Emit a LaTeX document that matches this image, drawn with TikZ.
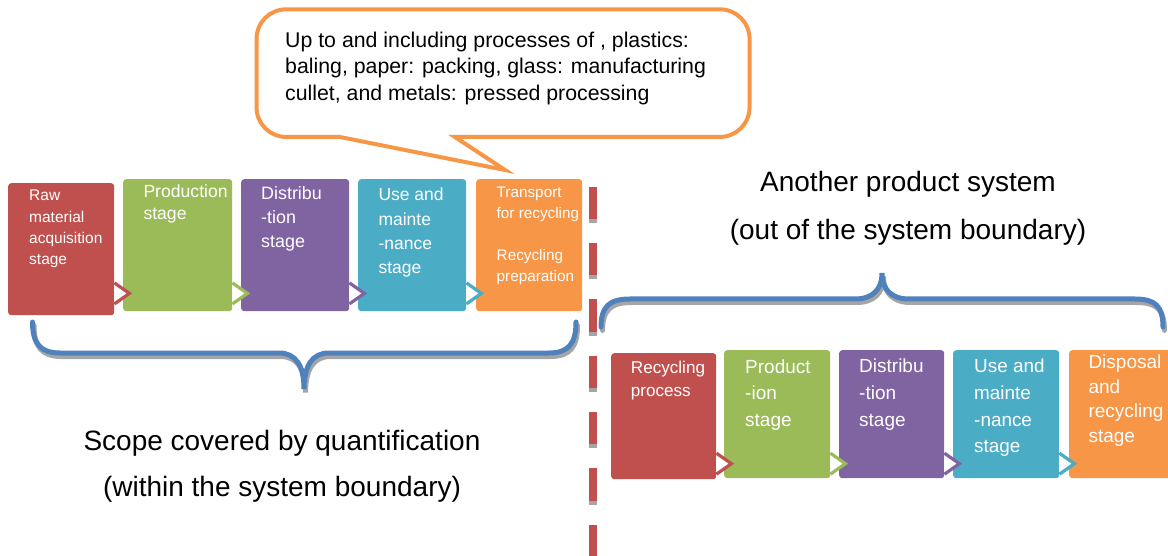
\documentclass[tikz,border=0pt]{standalone}
\usepackage{fontspec}
\setmainfont{Liberation Sans}
\usetikzlibrary{calc}
\definecolor{cred}{HTML}{C0504D}
\definecolor{cgreen}{HTML}{9BBB59}
\definecolor{cpurple}{HTML}{8064A2}
\definecolor{caqua}{HTML}{4BACC6}
\definecolor{corange}{HTML}{F79646}
\definecolor{cblue}{HTML}{4F81BD}
\definecolor{cshadow}{HTML}{A5A5A5}
\newcommand\myfs[2]{\fontsize{#1}{#2}\selectfont}
\newcommand\tabarrow[3]{\filldraw[tab, draw=#2] ($(#1.south east)+(0,-#3-10.5)$) -- ($(#1.south east)+(15,-#3)$) -- ($(#1.south east)+(0,-#3+10.5)$);}
\begin{document}
\begin{tikzpicture}[x=1pt,y=-1pt,
  stagebox/.style={rectangle, rounded corners=3pt, inner sep=0pt, anchor=north west},
  stagetxt/.style={anchor=north west, inner sep=0pt, align=left, text=white},
  tab/.style={fill=white, line width=3.2pt, line join=miter},
  bracesh/.style={draw=cshadow, line width=5pt, line cap=round},
  bracel/.style={draw=cblue, line width=5pt, line cap=round},
  lab/.style={anchor=base, inner sep=0pt, font=\myfs{28}{34}},
  dashline/.style={line width=7.3pt, dash pattern=on 32.5pt off 23.8pt}
]
\useasboundingbox (0,0) rectangle (1168,556);
\clip (0,0) rectangle (1168,556);

% callout
\draw[line width=4pt, draw=corange, fill=white, line join=miter]
  (286.5,9.3) -- (719.6,9.3) .. controls (736,9.3) and (749.6,22) .. (749.6,39.3)
  -- (749.6,107) .. controls (749.6,124) and (736,137) .. (719.6,137)
  -- (455,137) -- (505,170) -- (340,137) -- (286.5,137)
  .. controls (270,137) and (256.5,124) .. (256.5,107)
  -- (256.5,39.3) .. controls (256.5,22) and (270,9.3) .. (286.5,9.3) -- cycle;
\node[anchor=north west, inner sep=0pt, align=left, font=\myfs{21.3}{26.3}] (note) at (285,32)
  {Up to and including processes of , plastics:\\baling, paper: packing, glass: manufacturing\\cullet, and metals: pressed processing};

% top row
\node[stagebox, fill=cred, minimum width=106pt, minimum height=132pt] (t1) at (8,183) {};
\node[stagebox, fill=cgreen, minimum width=109pt, minimum height=132pt] (t2) at (123,179) {};
\node[stagebox, fill=cpurple, minimum width=108pt, minimum height=132pt] (t3) at (241,179) {};
\node[stagebox, fill=caqua, minimum width=108pt, minimum height=132pt] (t4) at (358,179) {};
\node[stagebox, fill=corange, minimum width=106pt, minimum height=132pt] (t5) at (476,179) {};
\node[stagetxt, font=\myfs{15.5}{21.3}] (t1x) at ($(t1.north west)+(21,7)$) {Raw\\material\\acquisition\\stage};
\node[stagetxt, font=\myfs{17.6}{21.5}] (t2x) at ($(t2.north west)+(20.3,6)$) {Production\\stage};
\node[stagetxt, font=\myfs{17.9}{24}] (t3x) at ($(t3.north west)+(20,7.7)$) {Distribu\\-tion\\stage};
\node[stagetxt, font=\myfs{17.5}{24.3}] (t4x) at ($(t4.north west)+(20.3,9)$) {Use and\\mainte\\-nance\\stage};
\node[stagetxt, font=\myfs{15.3}{21.1}] (t5x) at ($(t5.north west)+(20.5,7.7)$) {Transport\\for recycling\\[21.1pt]Recycling\\preparation};
\tabarrow{t1}{cred}{22}
\tabarrow{t2}{cgreen}{18}
\tabarrow{t3}{cpurple}{18}
\tabarrow{t4}{caqua}{18}

% bottom row
\node[stagebox, fill=cred, minimum width=105pt, minimum height=126pt] (b1) at (611,353) {};
\node[stagebox, fill=cgreen, minimum width=106pt, minimum height=128pt] (b2) at (724,350) {};
\node[stagebox, fill=cpurple, minimum width=105pt, minimum height=128pt] (b3) at (839,350) {};
\node[stagebox, fill=caqua, minimum width=106pt, minimum height=128pt] (b4) at (953,350) {};
\node[stagebox, fill=corange, minimum width=112pt, minimum height=128pt] (b5) at (1069,350) {};
\node[stagetxt, font=\myfs{17.1}{23.3}] (b1x) at ($(b1.north west)+(19.7,7.7)$) {Recycling\\process};
\node[stagetxt, font=\myfs{19}{26.7}] (b2x) at ($(b2.north west)+(21,9.3)$) {Product\\-ion\\stage};
\node[stagetxt, font=\myfs{19}{26.7}] (b3x) at ($(b3.north west)+(20,9)$) {Distribu\\-tion\\stage};
\node[stagetxt, font=\myfs{18.9}{26.7}] (b4x) at ($(b4.north west)+(21,9)$) {Use and\\mainte\\-nance\\stage};
\node[stagetxt, font=\myfs{19}{24.5}] (b5x) at ($(b5.north west)+(19.3,5)$) {Disposal\\and\\recycling\\stage};
\tabarrow{b1}{cred}{15.7}
\tabarrow{b2}{cgreen}{14.7}
\tabarrow{b3}{cpurple}{14.7}
\tabarrow{b4}{caqua}{14.7}

% boundary line
\draw[dashline, draw=cshadow] (593,190.7) -- (593,580);
\draw[dashline, draw=cred] (593,186.7) -- (593,580);

% braces
\draw[bracesh, shift={(1.5,3.5)}] (32.5,322) .. controls (32.5,343) and (40,353) .. (60,353) -- (279,353)
  .. controls (296,353) and (304,366) .. (304,389) .. controls (304,366) and (312,353) .. (329,353)
  -- (549,353) .. controls (569,353) and (576,343) .. (576,322);
\draw[bracel] (32.5,322) .. controls (32.5,343) and (40,353) .. (60,353) -- (279,353)
  .. controls (296,353) and (304,366) .. (304,389) .. controls (304,366) and (312,353) .. (329,353)
  -- (549,353) .. controls (569,353) and (576,343) .. (576,322);
\draw[bracesh, shift={(1.5,3.5)}] (601,327) .. controls (601,306) and (610,299) .. (630,299) -- (855,299)
  .. controls (872,299) and (882,290) .. (882,273) .. controls (882,290) and (892,299) .. (909,299)
  -- (1135,299) .. controls (1155,299) and (1163,306) .. (1163,327);
\draw[bracel] (601,327) .. controls (601,306) and (610,299) .. (630,299) -- (855,299)
  .. controls (872,299) and (882,290) .. (882,273) .. controls (882,290) and (892,299) .. (909,299)
  -- (1135,299) .. controls (1155,299) and (1163,306) .. (1163,327);

% labels
\node[lab] (scope1) at (282,450) {Scope covered by quantification};
\node[lab] (scope2) at (282,496) {(within the system boundary)};
\node[lab] (other1) at (908,192) {Another product system};
\node[lab] (other2) at (908,240) {(out of the system boundary)};
\end{tikzpicture}
\end{document}
